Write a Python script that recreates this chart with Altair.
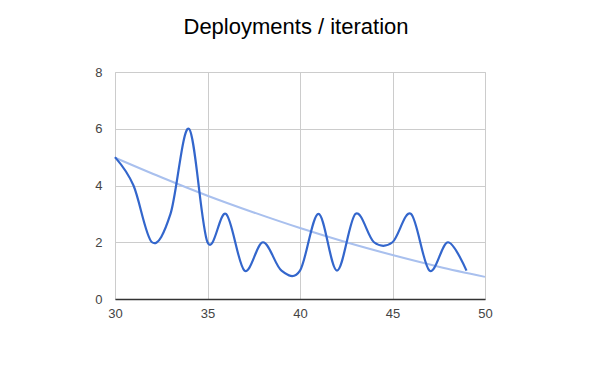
import altair as alt
import pandas as pd

iterations = list(range(30, 50))
deployments = [5, 4, 2, 3, 6, 2, 3, 1, 2, 1, 1, 3, 1, 3, 2, 2, 3, 1, 2, 1]

trend_x = [30, 32.5, 35, 37.5, 40, 42.5, 45, 47.5, 50]
trend_y = [4.98, 4.29, 3.64, 3.05, 2.5, 2.0, 1.55, 1.14, 0.78]

df = pd.DataFrame({"x": iterations, "y": deployments})
dt = pd.DataFrame({"x": trend_x, "y": trend_y})

xscale = alt.Scale(domain=[30, 50], nice=False, zero=False)
yscale = alt.Scale(domain=[0, 8], nice=False)

xaxis = alt.Axis(values=[30, 35, 40, 45, 50], title=None, grid=True, gridColor="#cccccc",
                 domain=True, domainColor="#333333", domainWidth=1.5, ticks=False,
                 labelPadding=8, labelFontSize=13, labelColor="#444444",
                 labelFont="Liberation Sans", labelFlush=False)
yaxis = alt.Axis(values=[0, 2, 4, 6, 8], title=None, grid=True, gridColor="#cccccc",
                 domain=False, ticks=False, labelPadding=13, labelFontSize=13,
                 labelColor="#444444", labelFont="Liberation Sans")

trend = alt.Chart(dt).mark_line(color="#a9c0ee", strokeWidth=2, interpolate="monotone").encode(
    x=alt.X("x:Q", scale=xscale, axis=xaxis),
    y=alt.Y("y:Q", scale=yscale, axis=yaxis),
)

main = alt.Chart(df).mark_line(color="#3366cc", strokeWidth=2.2, interpolate="cardinal").encode(
    x=alt.X("x:Q", scale=xscale),
    y=alt.Y("y:Q", scale=yscale),
)

chart = alt.layer(trend, main).properties(
    width=370,
    height=227,
    title=alt.TitleParams("Deployments / iteration", fontSize=22, font="Liberation Sans",
                          fontWeight="normal", color="#000000", anchor="middle", offset=27,
                          dx=-4),
    padding={"left": 107, "top": 64, "right": 100, "bottom": 50},
    autosize=alt.AutoSizeParams(type="none"),
).configure_view(stroke="#cccccc", strokeWidth=1)

chart.save("out.html", embed_options={"renderer": "svg", "actions": False})
